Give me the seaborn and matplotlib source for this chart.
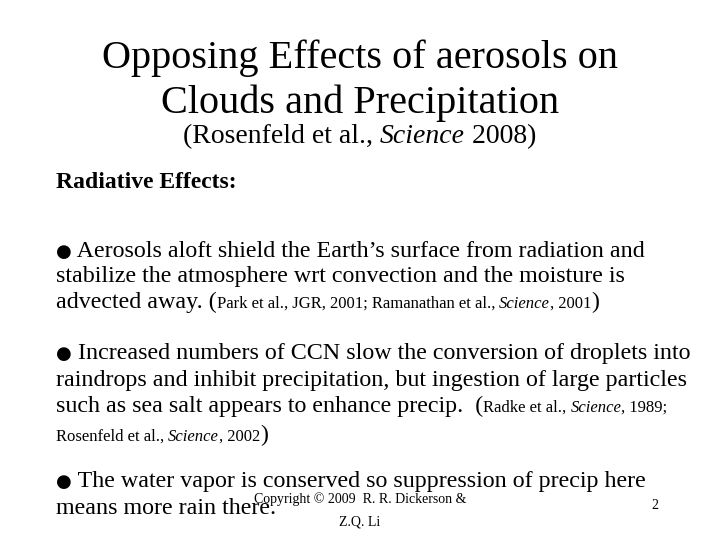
import matplotlib
matplotlib.use("Agg")
import matplotlib.pyplot as plt
import seaborn as sns

TITLE_LINES = ["Opposing Effects of aerosols on", "Clouds and Precipitation"]
HEADING = "Radiative Effects:"
BULLET = "\u25cf"

# each body line: list of (text, size, style)
BODY = [
    (257, [(BULLET, 13, "normal"), (" Aerosols aloft shield the Earth\u2019s surface from radiation and", 17.3, "normal")]),
    (282, [("stabilize the atmosphere wrt convection and the moisture is", 17.3, "normal")]),
    (308, [("advected away. (", 17.3, "normal"), ("Park et al., JGR, 2001; Ramanathan et al., ", 12, "normal"),
           ("Science", 12, "italic"), (", 2001", 12, "normal"), (")", 17.3, "normal")]),
    (359, [(BULLET, 13, "normal"), (" Increased numbers of CCN slow the conversion of droplets into", 17.3, "normal")]),
    (386, [("raindrops and inhibit precipitation, but ingestion of large particles", 17.3, "normal")]),
    (412, [("such as sea salt appears to enhance precip.  (", 17.3, "normal"), ("Radke et al., ", 12, "normal"),
           ("Science", 12, "italic"), (", 1989;", 12, "normal")]),
    (441, [("Rosenfeld et al., ", 12, "normal"), ("Science", 12, "italic"), (", 2002", 12, "normal"),
           (")", 17.3, "normal")]),
    (487, [(BULLET, 13, "normal"), (" The water vapor is conserved so suppression of precip here", 17.3, "normal")]),
    (514, [("means more rain there.", 17.3, "normal")]),
]
FOOTER = ["Copyright \u00a9 2009  R. R. Dickerson &", "Z.Q. Li"]
PAGE = "2"

W, H = 720, 540
sns.set_theme(style="white")
SERIF = ["Liberation Serif", "DejaVu Serif"]
plt.rcParams["font.family"] = SERIF

fig = plt.figure(figsize=(7.2, 5.4), dpi=100)
fig.patch.set_facecolor("white")
renderer = fig.canvas.get_renderer()


def put(x, y, s, **kw):
    kw.setdefault("family", SERIF)
    kw.setdefault("color", "black")
    return fig.text(x / W, 1 - y / H, s, **kw)


put(360, 68, TITLE_LINES[0], fontsize=29, ha="center", va="baseline")
put(360, 113, TITLE_LINES[1], fontsize=29, ha="center", va="baseline")

parts = [("(Rosenfeld et al., ", "normal"), ("Science", "italic"), (" 2008)", "normal")]
x = 183
for text, style in parts:
    t = put(x, 143, text, fontsize=20, style=style, va="baseline")
    x = t.get_window_extent(renderer).x1

put(56, 188, HEADING, fontsize=17, weight="bold", va="baseline")

for y, pieces in BODY:
    x = 56
    for text, size, style in pieces:
        fam = ["DejaVu Sans"] if text == BULLET else SERIF
        t = put(x, y, text, fontsize=size, style=style, va="baseline", family=fam)
        x = t.get_window_extent(renderer).x1

put(360, 503, FOOTER[0], fontsize=10, ha="center", va="baseline", zorder=0)
put(360, 526, FOOTER[1], fontsize=10, ha="center", va="baseline")
put(655, 509, PAGE, fontsize=10, ha="center", va="baseline")

fig.savefig("out.png", dpi=100, facecolor="white")
